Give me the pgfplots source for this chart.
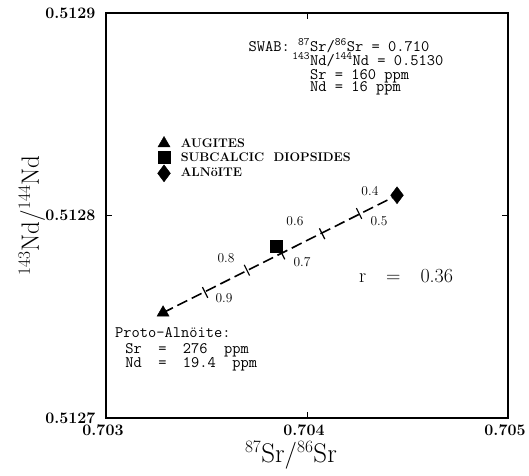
\documentclass[border=0pt]{standalone}
\usepackage{fontspec}
\usepackage{pgfplots}
\pgfplotsset{compat=1.18}
\newcommand{\mono}{\ttfamily\fontsize{16}{13}\selectfont\addfontfeature{FakeBold=1.2}}
\begin{document}
\begin{tikzpicture}[x=1pt,y=1pt]
\begin{axis}[
    at={(0,0)}, anchor=south west,
    scale only axis, width=402pt, height=405pt,
    xmin=0.703, xmax=0.705, ymin=0.5127, ymax=0.5129,
    xtick={0.703,0.704,0.705}, xticklabels={0.703,0.704,0.705},
    ytick={0.5127,0.5128,0.5129}, yticklabels={0.5127,0.5128,0.5129},
    tick align=inside, tick pos=both,
    major tick length=6pt,
    every tick/.style={black, line width=0.8pt},
    axis line style={line width=1.7pt},
    ticklabel style={font=\fontsize{16}{18}\selectfont\bfseries},
    yticklabel style={xshift=-7pt},
    xticklabel style={yshift=-3pt, xshift=-3pt},
    xlabel={$^{87}$Sr/$^{86}$Sr},
    ylabel={$^{143}$Nd/$^{144}$Nd},
    xlabel style={font=\fontsize{27}{30}\selectfont, at={(axis description cs:0.46,-0.092)}, anchor=center},
    ylabel style={font=\fontsize{25}{28}\selectfont, at={(axis description cs:-0.184,0.5)}, anchor=center},
    clip=false,
    legend style={at={(axis description cs:0.128,0.696)}, anchor=north west,
        draw=none, fill=none, inner sep=0pt, row sep=0pt,
        font=\fontsize{12.5}{14}\selectfont\bfseries},
    legend image code/.code={%
        \draw[mark repeat=2,mark phase=2,#1] plot coordinates {(0cm,0cm) (0.3cm,0cm) (0.6cm,0cm)};
        \path (0.6cm+6pt,0pt);},
    legend cell align=left,
]
% mixing line
\addplot[black, line width=1.6pt, dash pattern=on 11pt off 5pt, forget plot]
    coordinates {(0.703284,0.512752) (0.704448,0.512810)};
\addplot[black, only marks, mark=|, mark size=6pt, line width=1.2pt,
    mark options={rotate=26.6}, forget plot]
    coordinates {(0.703493,0.512762) (0.703701,0.512773) (0.703876,0.512781)
                 (0.704075,0.512791) (0.704259,0.512801)};
% samples
\addplot[black, only marks, mark=triangle*, mark size=7pt]
    coordinates {(0.703284,0.512752)};
\addlegendentry{AUGITES}
\addplot[black, only marks, mark=square*, mark size=6pt]
    coordinates {(0.703846,0.512785)};
\addlegendentry{SUBCALCIC\ \ DIOPSIDES}
\addplot[black, only marks, mark=diamond*, mark size=8.5pt]
    coordinates {(0.704448,0.512810)};
\addlegendentry{ALNöITE}
% fraction labels
\begin{scope}[every node/.style={font=\fontsize{13.5}{15}\selectfont, inner sep=0pt}]
\node at (axis cs:0.704313,0.512812) {0.4};
\node at (axis cs:0.704358,0.512797) {0.5};
\node at (axis cs:0.703940,0.512797) {0.6};
\node at (axis cs:0.703975,0.512777) {0.7};
\node at (axis cs:0.703597,0.512779) {0.8};
\node at (axis cs:0.703587,0.512759) {0.9};
\end{scope}
\node[font=\fontsize{20}{24}\selectfont] at (axis cs:0.704493,0.512770) {r\quad=\quad0.36};
% end members
\begin{scope}[every node/.style={font=\mono, inner sep=0pt, anchor=base west}]
\node at (axis cs:0.704015,0.512881) {\llap{SWAB: \textsuperscript{87}}Sr/\textsuperscript{86}Sr = 0.710};
\node at (axis cs:0.704015,0.512874) {\llap{\textsuperscript{143}}Nd/\textsuperscript{144}Nd = 0.5130};
\node at (axis cs:0.704015,0.512867) {Sr = 160 ppm};
\node at (axis cs:0.704015,0.512861) {Nd = 16 ppm};
\node at (axis cs:0.703045,0.512740) {Proto-Alnöite:};
\node at (axis cs:0.703095,0.512732) {Sr\ \ =\ \ 276\ \ ppm};
\node at (axis cs:0.703095,0.512725) {Nd\ \ =\ \ 19.4\ \ ppm};
\end{scope}
\end{axis}
\pgfresetboundingbox
\path (-106pt,-57pt) rectangle (423pt,418pt);
\end{tikzpicture}
\end{document}
